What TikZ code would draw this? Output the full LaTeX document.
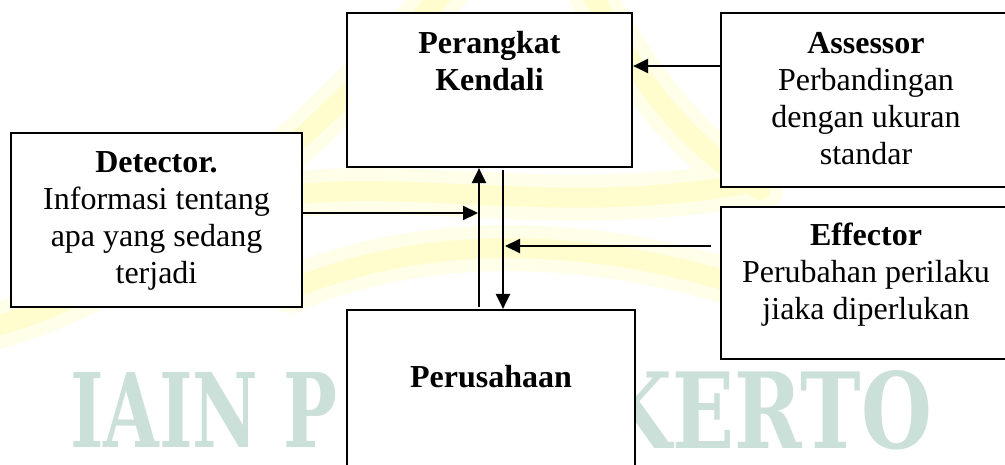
\documentclass[tikz,border=0pt]{standalone}
\usepackage{fontspec}
\setmainfont{Liberation Serif}
\newfontfamily\wmfont{DejaVu Serif Condensed}
\usetikzlibrary{arrows.meta}
\definecolor{wmcol}{RGB}{204,224,218}
\definecolor{glowA}{RGB}{255,254,232}
\definecolor{glowB}{RGB}{255,252,205}
\tikzset{
  box/.style={draw, line width=2.2pt, fill=white, inner sep=0pt},
  lbl/.style={font=\fontsize{32}{37}\selectfont, align=center, inner sep=0pt, anchor=base},
  blbl/.style={lbl, font=\fontsize{32}{37}\selectfont\bfseries},
  arr/.style={line width=2.2pt, -{Triangle[length=15pt,width=14pt]}},
  wm/.style={text=wmcol, font=\wmfont\bfseries, inner sep=0pt},
  glowout/.style={draw=glowA, line width=46pt, line cap=round},
  glowin/.style={draw=glowB, line width=20pt, line cap=round}
}
\begin{document}
\begin{tikzpicture}[x=1pt,y=-1pt]
\clip (0,0) rectangle (1005,464);
\fill[white] (0,0) rectangle (1005,464);
% faint yellow logo
\foreach \s in {glowout,glowin}{
  \draw[\s] (455,-20) .. controls (340,110) and (160,290) .. (-20,330);
  \draw[\s] (585,-20) .. controls (630,70) and (680,140) .. (760,190);
  \draw[\s] (290,195) .. controls (420,180) and (560,215) .. (740,185);
  \draw[\s] (290,290) .. controls (420,235) and (580,235) .. (740,285);
}
% watermark
\node[wm, anchor=south west] (wm1) at (70,448) {\resizebox{267pt}{75pt}{IAIN P}};
\node[wm, anchor=south east] (wm2) at (932,450) {\resizebox{330pt}{78pt}{KERTO}};
% boxes
\node[box, minimum width=285pt, minimum height=154pt] (pk) at (489.5,90) {};
\node[box, minimum width=288pt, minimum height=170pt] (pr) at (491,395) {};
\node[box, minimum width=291pt, minimum height=174pt] (det) at (156.5,220) {};
\node[box, minimum width=290pt, minimum height=174pt] (as) at (866,100) {};
\node[box, minimum width=290pt, minimum height=152pt] (ef) at (866,283) {};
% texts (anchor base = baseline of last line)
\node[blbl] (pkt) at (489.5,90) {Perangkat\\Kendali};
\node[blbl] (prt) at (491,387) {Perusahaan};
\node[lbl] (dett) at (156.5,283) {\textbf{Detector.}\\Informasi tentang\\apa yang sedang\\terjadi};
\node[lbl] (ast) at (866,164) {\textbf{Assessor}\\Perbandingan\\dengan ukuran\\standar};
\node[lbl] (eft) at (866,319) {\textbf{Effector}\\Perubahan perilaku\\jiaka diperlukan};
% connectors
\coordinate (upS) at (479,307);
\coordinate (dnS) at (503,170);
\coordinate (detE) at (478,213);
\coordinate (effS) at (711,246);
\coordinate (effE) at (505,246);
\draw[arr] (upS) -- (upS |- pk.south);
\draw[arr] (dnS) -- (dnS |- pr.north);
\draw[arr] (det.east |- detE) -- (detE);
\draw[arr] (effS) -- (effE);
\draw[arr] (as.west |- 0,66) -- (pk.east |- 0,66);
\end{tikzpicture}
\end{document}
